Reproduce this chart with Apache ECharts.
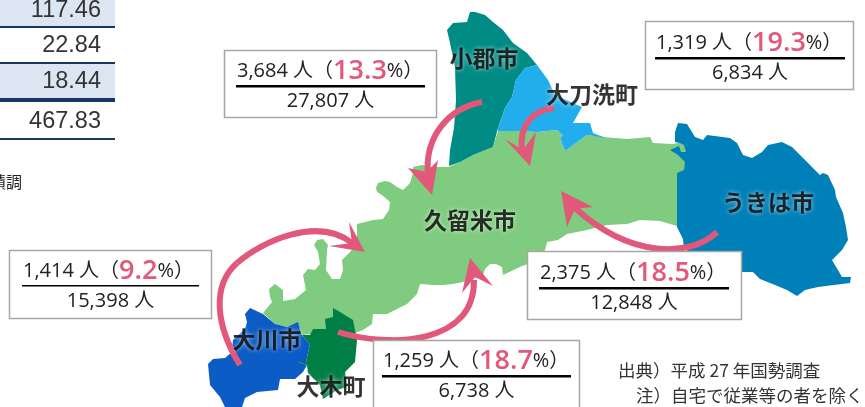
<!DOCTYPE html>
<html><head><meta charset="utf-8">
<style>html,body{margin:0;padding:0;background:#fff}#c{width:865px;height:407px}</style>
<script src="https://cdn.jsdelivr.net/npm/echarts@6/dist/echarts.min.js"></script>
</head><body><div id="c"></div>
<script>
// ---- table fragment ----
const tableValues = ['117.46', '22.84', '18.44', '467.83'];
const tableRowCenters = [11, 46, 82, 122];
// ---- region outlines (x, y in reference pixels) ----
const kurumeOutline = [[449,167],[460,162],[473,155],[493,147],[498,131],[520,131],[537,132],[557,130],[563,135],[560,138],[565,151],[587,135],[603,137],[627,139],[650,137],[653,143],[673,144],[681,142],[686,145],[687,152],[683,153],[690,165],[690,225],[677,226],[660,221],[640,220],[627,224],[607,225],[587,230],[567,234],[558,240],[547,242],[545,250],[535,262],[522,266],[503,275],[502,267],[496,264],[490,264],[485,269],[483,275],[463,282],[453,284],[443,285],[433,285],[420,284],[417,294],[407,304],[397,309],[387,314],[373,314],[372,324],[363,330],[355,333],[340,330],[302,335],[297,323],[287,327],[275,324],[263,313],[272,302],[270,297],[269,289],[275,284],[283,290],[283,301],[295,299],[306,290],[303,275],[308,269],[315,270],[320,264],[318,252],[314,245],[317,240],[323,239],[328,245],[327,250],[326,270],[332,279],[340,279],[343,270],[342,260],[350,252],[357,244],[357,224],[373,220],[383,219],[389,210],[390,202],[382,195],[377,192],[376,188],[378,183],[385,181],[390,182],[397,187],[403,190],[410,183],[413,173],[413,167],[422,165],[432,167]];
const ogoriOutline = [[470,12],[475,12],[485,15],[493,22],[503,30],[513,43],[527,53],[537,65],[525,68],[516,80],[512,97],[505,108],[498,128],[493,147],[473,155],[460,162],[449,166],[450,150],[454,128],[456,100],[455,67],[450,43],[447,30],[453,23],[467,22]];
const oaraiOutline = [[537,65],[548,80],[555,95],[573,103],[582,107],[573,123],[590,123],[593,133],[606,138],[587,135],[565,151],[560,138],[563,135],[557,130],[537,132],[520,131],[498,131],[498,128],[505,108],[512,97],[516,80],[525,68]];
const ukihaOutline = [[678,123],[687,124],[695,137],[703,140],[707,135],[730,138],[737,143],[743,155],[752,158],[762,152],[768,145],[782,142],[792,147],[808,163],[820,175],[823,173],[828,175],[835,190],[836,197],[843,213],[846,227],[848,240],[842,250],[832,260],[842,277],[851,277],[850,283],[818,287],[805,290],[797,296],[787,290],[775,285],[760,279],[753,272],[742,272],[715,265],[684,249],[683,239],[677,227],[677,197],[677,173],[684,170],[685,162],[678,155],[670,150],[679,146],[681,152],[686,152],[684,145],[680,143],[675,142],[675,132]];
const okiOutline = [[333,308],[340,312],[353,320],[357,340],[355,362],[345,372],[347,387],[337,390],[323,399],[320,385],[308,373],[307,365],[298,362],[306,362],[310,344],[302,335],[310,335],[313,329],[326,329],[325,319],[333,317]];
const okawaOutline = [[250,308],[263,314],[275,324],[287,327],[298,322],[301,334],[310,344],[306,362],[298,362],[307,365],[303,372],[295,379],[280,379],[278,390],[257,392],[245,398],[242,407],[225,407],[220,397],[210,385],[208,364],[213,359],[225,358],[232,352],[233,340],[245,329],[247,322],[245,314]];
const regionNames = ['久留米市','小郡市','大刀洗町','うきは市','大川市','大木町'];
const regionOutlines = [kurumeOutline, ogoriOutline, oaraiOutline, ukihaOutline, okawaOutline, okiOutline];
const regionColors = ['#7FCB7F','#008B84','#22AEEC','#0080B8','#0B5CC4','#007F45'];
const labelAnchors = [[470,220],[484,58],[592,94],[768,202],[267,339],[331,386]];
// ---- flow arrows: each shaft is a list of cubic segments [start, control, control, end] ----
const arrowShafts = [
  [[[482,102],[450,108],[424,135],[428,176]]],
  [[[554,108],[533,110],[519,125],[522,150]]],
  [[[717,232],[690,258],[630,258],[575,208]]],
  [[[338,332],[390,348],[475,345],[474,280]]],
  [[[240,365],[215,325],[212,285],[237,263]],[[237,263],[262,241],[318,216],[352,243]]]
];
const arrowHeads = [
  [[432,195],[408,168],[427,172],[438,160]],
  [[530,166],[505,139],[523,150],[536,132]],
  [[561,191],[593,207],[575,209],[567,227]],
  [[470,258],[493,286],[475,277],[462,293]],
  [[365,252],[349,222],[352,243],[329,246]]
];
// ---- callouts ----
const calloutPart = ['3,684','1,319','1,414','2,375','1,259'];
const calloutRate = ['13.3','19.3','9.2','18.5','18.7'];
const calloutTotal = ['27,807','6,834','15,398','12,848','6,738'];
const calloutBoxes = [[224,50,212,67],[645,21,208,68],[9,250,202,68],[527,251,214,68],[373,340,206,80]];
const calloutRules = [[236,425,86],[655,845,58],[22,199,286],[539,729,288],[382,571,376]];
const noteLines = ['出典）平成 27 年国勢調査','注）自宅で従業等の者を除く'];

const PINK = '#E2587B';
const SANS = '"Open Sans","Noto Sans CJK JP",sans-serif';
const JP = '"Noto Sans CJK JP",sans-serif';

echarts.registerMap('area', {type:'FeatureCollection', features: regionNames.map((n,i)=>({
  type:'Feature', properties:{name:n},
  geometry:{type:'Polygon', coordinates:[regionOutlines[i].concat([regionOutlines[i][0]]).map(p=>[p[0],-p[1]])]}
}))});

const g = [];
// table
[[0,26,'#DCE6F2'],[63,36,'#DCE6F2']].forEach(r=>g.push({type:'rect',z:10,shape:{x:0,y:r[0],width:115,height:r[1]},style:{fill:r[2]}}));
[[26,2],[62,2],[98,4],[138,2]].forEach(r=>g.push({type:'rect',z:11,shape:{x:0,y:r[0],width:115,height:r[1]},style:{fill:'#17375E'}}));
tableValues.forEach((t,i)=>g.push({type:'text',z:12,style:{text:t,x:101,y:tableRowCenters[i],align:'right',verticalAlign:'middle',font:'23.5px "Liberation Sans"',fill:'#333'}}));
g.push({type:'text',z:12,style:{text:'積調',x:22,y:182,align:'right',verticalAlign:'middle',font:'16px '+JP,fill:'#222'}});
// callouts
calloutBoxes.forEach((b,i)=>{
  g.push({type:'rect',z:10,shape:{x:b[0]+.5,y:b[1]+.5,width:b[2],height:b[3]},style:{fill:'#fff',stroke:'#A6A6A6',lineWidth:1.5}});
  const r = calloutRules[i];
  g.push({type:'rect',z:11,shape:{x:r[0],y:r[2]-1,width:r[1]-r[0],height:i==2?1.5:2.5},style:{fill:'#000'}});
  const cx = (r[0]+r[1])/2;
  g.push({type:'text',z:12,style:{x:r[0]+1,y:r[2]-1,align:'left',verticalAlign:'bottom',
    text:'{a|'+calloutPart[i]+' 人（}{b|'+calloutRate[i]+'}{a|%）}',
    rich:{a:{font:'20px '+SANS,fill:'#222'},b:{font:'600 27px '+SANS,fill:PINK}}}});
  g.push({type:'text',z:12,style:{x:cx,y:r[2]+15.5,align:'center',verticalAlign:'middle',text:calloutTotal[i]+' 人',font:'20px '+SANS,fill:'#222'}});
});
// notes
g.push({type:'text',z:12,style:{x:618,y:370,verticalAlign:'middle',text:noteLines[0],font:'400 17.5px '+JP,fill:'#333'}});
g.push({type:'text',z:12,style:{x:636,y:395,verticalAlign:'middle',text:noteLines[1],font:'400 17.5px '+JP,fill:'#333'}});

const chart = echarts.init(document.getElementById('c'),null,{renderer:'canvas'});
chart.setOption({
  animation:false,
  geo:{map:'area',silent:true,aspectScale:1,left:0,top:0,width:865,height:407,
    boundingCoords:[[0,0],[865,-407]],roam:false,label:{show:false},
    itemStyle:{borderWidth:0},
    regions:regionNames.map((n,i)=>({name:n,itemStyle:{areaColor:regionColors[i],borderWidth:0},label:{show:false}}))},
  graphic:g,
  series:[
    {type:'custom',coordinateSystem:'geo',silent:true,z:3,
     data:arrowShafts.map(s=>[s[0][0][0],-s[0][0][1]]),
     renderItem(p,api){
       const c=q=>api.coord([q[0],-q[1]]);
       const kids=arrowShafts[p.dataIndex].map(seg=>{
         const [a,b,d,e]=seg.map(c);
         return {type:'bezierCurve',shape:{x1:a[0],y1:a[1],cpx1:b[0],cpy1:b[1],cpx2:d[0],cpy2:d[1],x2:e[0],y2:e[1]},style:{stroke:PINK,lineWidth:6,fill:null}};
       });
       kids.push({type:'polygon',shape:{points:arrowHeads[p.dataIndex].map(c)},style:{fill:PINK}});
       return {type:'group',children:kids};
     }},
    {type:'scatter',coordinateSystem:'geo',silent:true,z:5,symbolSize:1,itemStyle:{color:'transparent'},
     data:regionNames.map((n,i)=>({name:n,value:[labelAnchors[i][0],-labelAnchors[i][1]]})),
     label:{show:true,position:'inside',formatter:'{b}',fontFamily:JP,fontWeight:'bold',fontSize:23,color:'#000',
       textShadowColor:'rgba(255,255,255,.85)',textShadowBlur:4}}
  ]
});
</script></body></html>
